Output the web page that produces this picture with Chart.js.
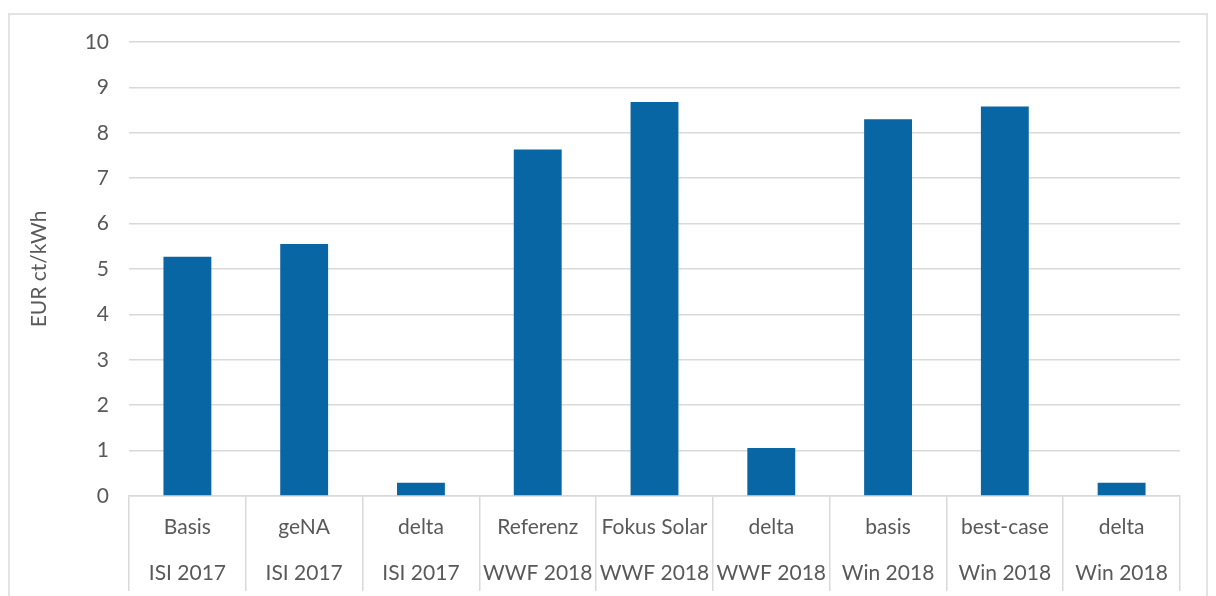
<!DOCTYPE html>
<html>
<head>
<meta charset="utf-8">
<script src="https://cdn.jsdelivr.net/npm/chart.js@4"></script>
<style>
  html, body { margin: 0; padding: 0; background: #fff; }
  #wrap { position: relative; width: 1216px; height: 596px; }
  #frame { position: absolute; left: 8px; top: 13px; width: 1200px; height: 600px;
           border: 2px solid #e3e3e3; box-sizing: border-box; }
  canvas { position: absolute; left: 0; top: 0; }
</style>
</head>
<body>
<div id="wrap">
  <div id="frame"></div>
  <canvas id="costChart" width="1216" height="596"></canvas>
</div>
<script>
// --- DATA ---
const scenarios = ['Basis', 'geNA', 'delta', 'Referenz', 'Fokus Solar', 'delta', 'basis', 'best-case', 'delta'];
const studies = ['ISI 2017', 'ISI 2017', 'ISI 2017', 'WWF 2018', 'WWF 2018', 'WWF 2018', 'Win 2018', 'Win 2018', 'Win 2018'];
const costValues = [5.27, 5.55, 0.29, 7.63, 8.68, 1.06, 8.30, 8.58, 0.29];
const yTicks = [0, 1, 2, 3, 4, 5, 6, 7, 8, 9, 10];

const labelFont = "Lato, 'Open Sans', sans-serif";
const gridGrey = '#d9d9d9';

// Chart: costs per scenario
function initCostChart() {
    const ctx = document.getElementById('costChart').getContext('2d');
    new Chart(ctx, {
        type: 'bar',
        data: {
            labels: scenarios.map((s, i) => [s, studies[i]]),
            datasets: [{
                label: 'EUR ct/kWh',
                data: costValues,
                backgroundColor: '#0866A5',
                barPercentage: 0.41,
                categoryPercentage: 1
            }]
        },
        options: {
            responsive: false,
            animation: false,
            layout: { padding: { left: 0, right: 36, top: 42, bottom: 0 } },
            plugins: { legend: { display: false }, tooltip: { enabled: false } },
            scales: {
                x: {
                    offset: true,
                    grid: {
                        offset: true,
                        drawOnChartArea: false,
                        drawTicks: true,
                        tickLength: 95,
                        color: gridGrey,
                        lineWidth: 1.5
                    },
                    border: { color: gridGrey, width: 1.5 },
                    ticks: {
                        color: '#595959',
                        font: { family: labelFont, size: 21, lineHeight: 2.2 },
                        padding: -87,
                        maxRotation: 0,
                        autoSkip: false
                    },
                    afterFit: scale => { scale.height = 100; }
                },
                y: {
                    min: 0,
                    max: 10,
                    afterBuildTicks: scale => { scale.ticks = yTicks.map(v => ({ value: v })); },
                    grid: { color: gridGrey, lineWidth: 1.5, drawTicks: false },
                    border: { display: false },
                    ticks: {
                        color: '#595959',
                        font: { family: labelFont, size: 21 },
                        padding: 20
                    },
                    title: {
                        display: true,
                        text: 'EUR ct/kWh',
                        color: '#595959',
                        font: { family: labelFont, size: 21 },
                        padding: { top: 27, bottom: 0 }
                    },
                    afterFit: scale => { scale.width = 129; }
                }
            }
        }
    });
}

document.addEventListener('DOMContentLoaded', initCostChart);
</script>
</body>
</html>
